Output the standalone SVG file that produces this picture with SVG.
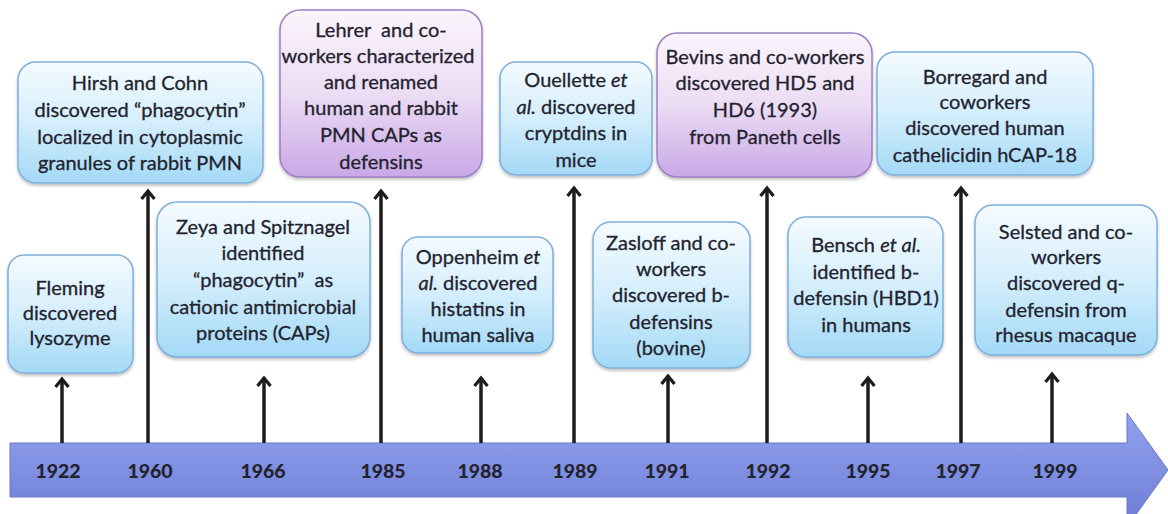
<svg xmlns="http://www.w3.org/2000/svg" width="1168" height="514" viewBox="0 0 1168 514">
<style>
.t{font-family:Lato,"Open Sans","Liberation Sans",sans-serif;font-size:20px;fill:#23232e;stroke:#23232e;stroke-width:0.3;text-anchor:middle}
.y{font-family:Lato,"Liberation Sans",sans-serif;font-size:19.5px;font-weight:900;fill:#23232e;text-anchor:middle}
.b{fill:url(#gb);stroke:#7eaedc;stroke-width:1.5;filter:url(#sh)}
.p{fill:url(#gp);stroke:#9b80c4;stroke-width:1.5;filter:url(#sh)}
.a{stroke:#1c1c1c;stroke-width:3.5;fill:none;marker-end:url(#ah)}
</style>
<defs>
<linearGradient id="gb" x1="0" y1="0" x2="0" y2="1">
<stop offset="0" stop-color="#f4fbff"/>
<stop offset="0.5" stop-color="#d4eefc"/>
<stop offset="1" stop-color="#a3d9f6"/>
</linearGradient>
<linearGradient id="gp" x1="0" y1="0" x2="0" y2="1">
<stop offset="0" stop-color="#fbf5fc"/>
<stop offset="0.5" stop-color="#ecdcf4"/>
<stop offset="1" stop-color="#c9a8e6"/>
</linearGradient>
<linearGradient id="gt" x1="0" y1="0" x2="0" y2="1">
<stop offset="0" stop-color="#93a1ec"/>
<stop offset="0.5" stop-color="#7f8fe2"/>
<stop offset="1" stop-color="#6c7cd3"/>
</linearGradient>
<filter id="sh" x="-10%" y="-10%" width="120%" height="125%">
<feDropShadow dx="0" dy="2" stdDeviation="1.5" flood-color="#000" flood-opacity="0.25"/>
</filter>
<marker id="ah" viewBox="0 0 13 16" refX="10" refY="8" markerWidth="13" markerHeight="16" markerUnits="userSpaceOnUse" orient="auto">
<polyline points="2,1.5 10,8 2,14.5" fill="none" stroke="#1c1c1c" stroke-width="3.2"/>
</marker>
</defs>

<g id="timeline">
<path d="M10,443 H1127 V413 L1168,470 L1127,527 V497 H10 Z" fill="url(#gt)" stroke="#6a78c8" stroke-width="1"/>
<text class="y" x="58" y="478">1922</text>
<text class="y" x="150" y="478">1960</text>
<text class="y" x="263" y="478">1966</text>
<text class="y" x="383" y="478">1985</text>
<text class="y" x="480" y="478">1988</text>
<text class="y" x="575" y="478">1989</text>
<text class="y" x="667" y="478">1991</text>
<text class="y" x="768" y="478">1992</text>
<text class="y" x="868" y="478">1995</text>
<text class="y" x="958" y="478">1997</text>
<text class="y" x="1055" y="478">1999</text>
</g>

<g id="connectors">
<line class="a" x1="62" y1="443" x2="62" y2="379"/>
<line class="a" x1="148" y1="443" x2="148" y2="191"/>
<line class="a" x1="264" y1="443" x2="264" y2="378"/>
<line class="a" x1="381" y1="443" x2="381" y2="191"/>
<line class="a" x1="481" y1="443" x2="481" y2="378"/>
<line class="a" x1="574" y1="443" x2="574" y2="188"/>
<line class="a" x1="668" y1="443" x2="668" y2="376"/>
<line class="a" x1="767" y1="443" x2="767" y2="188"/>
<line class="a" x1="868" y1="443" x2="868" y2="378"/>
<line class="a" x1="961" y1="443" x2="961" y2="188"/>
<line class="a" x1="1052" y1="443" x2="1052" y2="374"/>
</g>

<g id="n1922">
<rect class="b" x="8" y="255" width="125" height="118" rx="16"/>
<text class="t" x="70" y="295">Fleming</text>
<text class="t" x="70" y="320">discovered</text>
<text class="t" x="70" y="345">lysozyme</text>
</g>

<g id="n1960">
<rect class="b" x="18" y="62" width="245" height="121" rx="18"/>
<text class="t" x="140" y="90">Hirsh and Cohn</text>
<text class="t" x="140" y="117">discovered “phagocytin”</text>
<text class="t" x="140" y="144">localized in cytoplasmic</text>
<text class="t" x="140" y="170">granules of rabbit PMN</text>
</g>

<g id="n1966">
<rect class="b" x="157" y="202" width="213" height="155" rx="20"/>
<text class="t" x="263" y="234">Zeya and Spitznagel</text>
<text class="t" x="263" y="260">identified</text>
<text class="t" x="263" y="287">“phagocytin”&#160; as</text>
<text class="t" x="263" y="314">cationic antimicrobial</text>
<text class="t" x="263" y="340">proteins (CAPs)</text>
</g>

<g id="n1985">
<rect class="p" x="280" y="10" width="202" height="167" rx="20"/>
<text class="t" x="381" y="37">Lehrer&#160; and co-</text>
<text class="t" x="378" y="63">workers characterized</text>
<text class="t" x="381" y="89">and renamed</text>
<text class="t" x="381" y="115">human and rabbit</text>
<text class="t" x="381" y="142">PMN CAPs as</text>
<text class="t" x="381" y="169">defensins</text>
</g>

<g id="n1988">
<rect class="b" x="402" y="237" width="151" height="116" rx="16"/>
<text class="t" x="478" y="264">Oppenheim <tspan font-style="italic">et</tspan></text>
<text class="t" x="478" y="290"><tspan font-style="italic">al.</tspan> discovered</text>
<text class="t" x="478" y="316">histatins in</text>
<text class="t" x="478" y="342">human saliva</text>
</g>

<g id="n1989">
<rect class="b" x="500" y="62" width="152" height="113" rx="16"/>
<text class="t" x="576" y="87">Ouellette <tspan font-style="italic">et</tspan></text>
<text class="t" x="576" y="114"><tspan font-style="italic">al.</tspan> discovered</text>
<text class="t" x="576" y="140">cryptdins in</text>
<text class="t" x="576" y="167">mice</text>
</g>

<g id="n1991">
<rect class="b" x="593" y="222" width="157" height="146" rx="18"/>
<text class="t" x="671" y="250">Zasloff and co-</text>
<text class="t" x="671" y="276">workers</text>
<text class="t" x="671" y="302">discovered b-</text>
<text class="t" x="671" y="329">defensins</text>
<text class="t" x="671" y="355">(bovine)</text>
</g>

<g id="n1992">
<rect class="p" x="657" y="33" width="215" height="144" rx="20"/>
<text class="t" x="765" y="64">Bevins and co-workers</text>
<text class="t" x="765" y="90">discovered HD5 and</text>
<text class="t" x="765" y="117">HD6 (1993)</text>
<text class="t" x="765" y="144">from Paneth cells</text>
</g>

<g id="n1995">
<rect class="b" x="788" y="217" width="155" height="140" rx="18"/>
<text class="t" x="866" y="252">Bensch <tspan font-style="italic">et al.</tspan></text>
<text class="t" x="866" y="279">identified b-</text>
<text class="t" x="866" y="305">defensin (HBD1)</text>
<text class="t" x="866" y="332">in humans</text>
</g>

<g id="n1997">
<rect class="b" x="877" y="52" width="216" height="123" rx="18"/>
<text class="t" x="985" y="84">Borregard and</text>
<text class="t" x="985" y="109">coworkers</text>
<text class="t" x="985" y="135">discovered human</text>
<text class="t" x="985" y="162">cathelicidin hCAP-18</text>
</g>

<g id="n1999">
<rect class="b" x="975" y="205" width="182" height="150" rx="18"/>
<text class="t" x="1066" y="239">Selsted and co-</text>
<text class="t" x="1066" y="264">workers</text>
<text class="t" x="1066" y="290">discovered q-</text>
<text class="t" x="1066" y="317">defensin from</text>
<text class="t" x="1066" y="342">rhesus macaque</text>
</g>
</svg>
